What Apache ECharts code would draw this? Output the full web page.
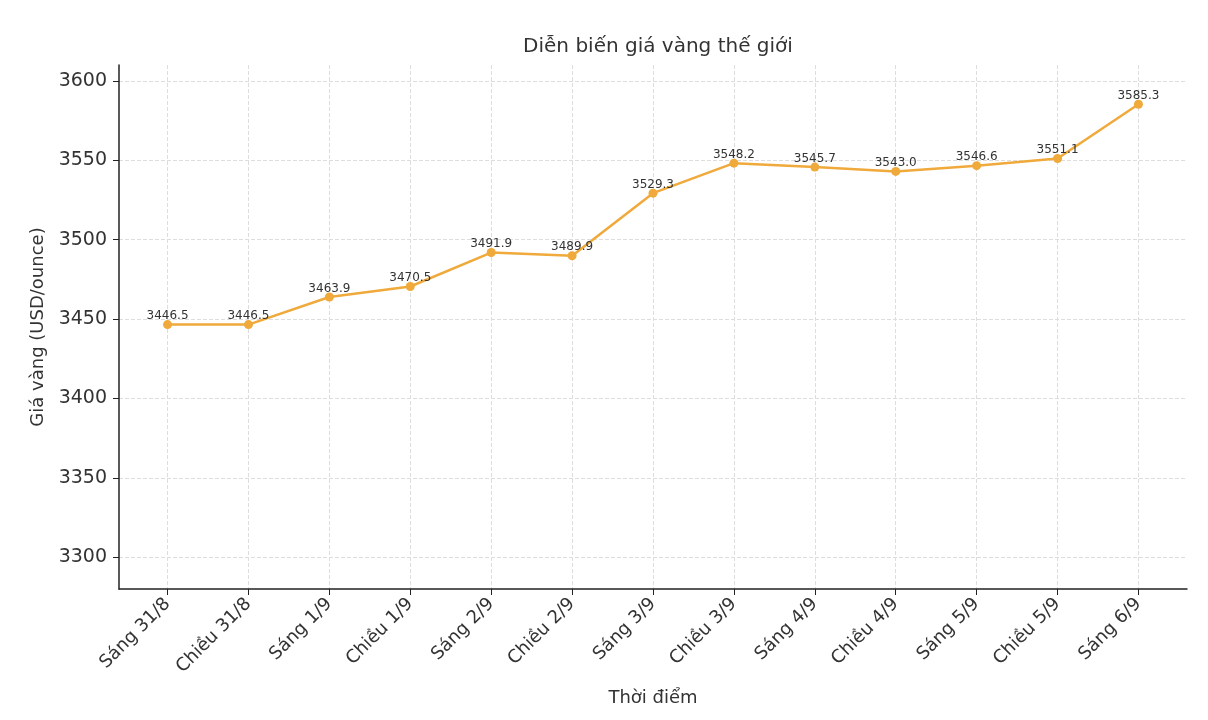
<!DOCTYPE html>
<html><head><meta charset="utf-8">
<script src="https://cdn.jsdelivr.net/npm/echarts@6/dist/echarts.min.js"></script>
<style>html,body{margin:0;background:#fff}#c{width:1208px;height:720px}</style>
</head><body><div id="c"></div>
<script>
const categories=["Sáng 31/8","Chiều 31/8","Sáng 1/9","Chiều 1/9","Sáng 2/9","Chiều 2/9","Sáng 3/9","Chiều 3/9","Sáng 4/9","Chiều 4/9","Sáng 5/9","Chiều 5/9","Sáng 6/9"];
const prices=[3446.5,3446.5,3463.9,3470.5,3491.9,3489.9,3529.3,3548.2,3545.7,3543.0,3546.6,3551.1,3585.3];
const yTicks=[3300,3350,3400,3450,3500,3550,3600];
const xIdx=categories.map((_,i)=>i);
const font='"DejaVu Sans", sans-serif';
const grid={type:'dashed',color:'#dddddd',width:1};
const chart=echarts.init(document.getElementById('c'));
chart.setOption({
  animation:false,
  title:{text:'Diễn biến giá vàng thế giới',left:653,top:32,textAlign:'center',textStyle:{fontFamily:font,fontSize:20,fontWeight:'normal',color:'#333'}},
  grid:{left:119,right:21,top:65,bottom:131},
  xAxis:{type:'value',min:-0.6,max:12.6,name:'Thời điểm',nameLocation:'middle',nameGap:100,
    nameTextStyle:{fontFamily:font,fontSize:18,color:'#333'},
    axisLine:{show:true,onZero:false,lineStyle:{color:'#222',width:1.5}},
    axisTick:{show:true,customValues:xIdx,length:6,lineStyle:{color:'#222'}},
    axisLabel:{customValues:xIdx,rotate:45,fontFamily:font,fontSize:18,color:'#333',margin:12,formatter:v=>categories[Math.round(v)]},
    splitLine:{show:true,lineStyle:grid}},
  yAxis:{type:'value',min:3280,max:3610,name:'Giá vàng (USD/ounce)',nameLocation:'middle',nameGap:66,
    nameTextStyle:{fontFamily:font,fontSize:18,color:'#333'},
    axisLine:{show:true,onZero:false,lineStyle:{color:'#222',width:1.5}},
    axisTick:{show:true,customValues:yTicks,length:6,lineStyle:{color:'#222'}},
    axisLabel:{customValues:yTicks,fontFamily:font,fontSize:19,color:'#333',margin:12,formatter:v=>String(v)},
    splitLine:{show:true,lineStyle:grid}},
  series:[{type:'line',data:prices.map((p,i)=>[i,p]),symbol:'circle',symbolSize:9,
    lineStyle:{color:'#f0a93b',width:2.5},itemStyle:{color:'#f0a93b'},
    label:{show:true,position:'top',distance:-2,fontFamily:font,fontSize:12,color:'#333',formatter:p=>p.value[1].toFixed(1)}}]
});
</script></body></html>
